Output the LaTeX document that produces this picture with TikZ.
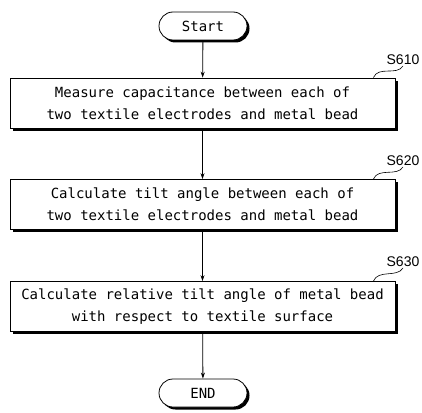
\documentclass[tikz,border=0pt]{standalone}
\usepackage{fontspec}
\setmonofont{DejaVu Sans Mono}
\setsansfont{Liberation Sans}
\usetikzlibrary{shapes.misc,shadows,arrows.meta}

\tikzset{
  shade black/.style={drop shadow={shadow xshift=2.5pt, shadow yshift=-2.5pt, opacity=1, fill=black}},
  stepbox/.style={draw, fill=white, line width=0.8pt, shade black, minimum width=385pt, minimum height=50pt,
    align=center, inner sep=0pt, font=\ttfamily\fontsize{14}{22}\selectfont},
  termbox/.style={draw, fill=white, line width=0.8pt, shade black, rounded rectangle, minimum width=88pt,
    minimum height=28pt, inner sep=0pt, font=\ttfamily\fontsize{14}{16}\selectfont},
  steplabel/.style={font=\sffamily\fontsize{14}{14}\selectfont, inner sep=1pt},
  flow/.style={line width=0.8pt, -{Stealth[length=6pt,width=4pt]}},
}

\begin{document}
\begin{tikzpicture}[x=1pt, y=-1pt]
  \useasboundingbox (0,0) rectangle (422,412);

  % terminals
  \node [termbox](start) at (203,26) {Start};
  \node [termbox](stop) at (203,393) {END};

  % steps
  \node [stepbox](s1) at (202.5,103) {Measure capacitance between each of\\two textile electrodes and metal bead};
  \node [stepbox](s2) at (202.5,204.5) {Calculate tilt angle between each of\\two textile electrodes and metal bead};
  \node [stepbox](s3) at (202.5,306.5) {Calculate relative tilt angle of metal bead\\with respect to textile surface};

  % step numbers
  \node [steplabel, anchor=south](l1) at (403,66) {S610};
  \node [steplabel, anchor=south](l2) at (403,167) {S620};
  \node [steplabel, anchor=south](l3) at (403,268) {S630};

  \draw[line width=0.6pt] ([xshift=-22pt]s1.north east) .. controls +(5,-12) and +(-6,10) .. (l1.south);
  \draw[line width=0.6pt] ([xshift=-22pt]s2.north east) .. controls +(5,-12) and +(-6,10) .. (l2.south);
  \draw[line width=0.6pt] ([xshift=-22pt]s3.north east) .. controls +(5,-12) and +(-6,10) .. (l3.south);

  % arrows
  \draw [flow] (start) -- (s1);
  \draw [flow] (s1) -- (s2);
  \draw [flow] (s2) -- (s3);
  \draw [flow] (s3) -- (stop);
\end{tikzpicture}
\end{document}
